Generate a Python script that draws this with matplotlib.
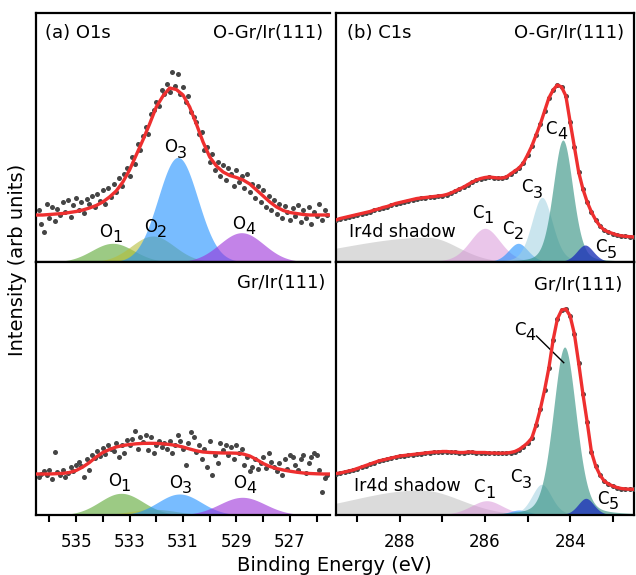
import numpy as np
import matplotlib
matplotlib.use("Agg")
import matplotlib.pyplot as plt

# ---------------- O1s ----------------
# measured points, 536.4 -> 525.6 eV in 0.1 eV steps (arb units)
o1s_ogr_data = [52, 38, 30, 58, 44, 55, 41, 53, 47, 60, 50, 62, 45, 57, 64, 52, 60, 49, 63, 58,
                66, 55, 68, 61, 72, 58, 74, 65, 78, 70, 84, 76, 88, 94, 86, 105, 98, 118, 112, 126,
                135, 128, 148, 152, 160, 156, 172, 168, 178, 170, 190, 176, 188, 168, 175, 160, 166, 150, 145, 140,
                128, 130, 112, 115, 100, 108, 92, 100, 86, 97, 82, 94, 88, 76, 92, 80, 86, 74, 88, 70,
                78, 64, 76, 60, 72, 55, 66, 52, 62, 48, 58, 44, 56, 50, 42, 54, 46, 57, 40, 52,
                44, 55, 38, 50, 46, 58, 42, 52, 47]
o1s_gr_data = [38, 41, 44, 40, 45, 36, 63, 43, 40, 45, 38, 42, 48, 44, 50, 53, 49, 38, 56, 45,
               60, 57, 64, 59, 67, 61, 70, 66, 64, 72, 58, 70, 62, 75, 70, 76, 84, 66, 78, 73,
               80, 65, 78, 62, 70, 74, 68, 72, 66, 74, 62, 70, 80, 74, 66, 50, 72, 83, 78, 63,
               70, 56, 66, 48, 74, 40, 60, 52, 72, 65, 70, 60, 68, 56, 70, 62, 66, 50, 58, 44,
               48, 56, 46, 52, 58, 47, 62, 53, 48, 44, 52, 40, 56, 46, 60, 58, 50, 45, 56, 60,
               42, 52, 58, 62, 60, 45, 23, 37, 40]

# fit envelopes, 536.5 -> 525.5 eV in 0.25 eV steps
o1s_ogr_fit = [47, 47, 47.5, 48, 48.5, 49.5, 50.5, 52, 54, 56.5, 60, 65, 71, 80, 92, 107, 122, 138,
               155, 166, 174, 172.5, 167, 155, 138, 120, 105, 96, 90, 86.5, 84.5, 82, 78, 72, 66, 60,
               55, 51.5, 49.5, 48.5, 47.5, 47, 47, 47, 47]
o1s_gr_fit = [41, 41, 41, 41.3, 41.6, 42.5, 44.5, 48, 52.5, 58, 62.5, 65.5, 68, 69.5, 70.5, 71.2,
              71.6, 71.7, 71.6, 71.2, 70.5, 69.5, 68, 66, 64.2, 63, 62.5, 62.2, 62, 62, 61.8, 61,
              59, 55.5, 51.5, 48.5, 46.5, 45, 43.8, 42.8, 42, 41.5, 41.2, 41, 41]

# fitted components O1..O4: centre (eV), height, fwhm (eV)
o_colors = ["#5aa832", "#b5bd3a", "#1e90ff", "#9b30d9"]
o1s_ogr_center = [533.63, 532.13, 531.19, 528.81]
o1s_ogr_height = [18.7, 26, 104.7, 29.3]
o1s_ogr_fwhm = [1.85, 1.9, 1.75, 1.95]
o1s_gr_center = [533.31, 532.1, 531.13, 528.78]
o1s_gr_height = [21.7, 5.7, 21, 17.7]
o1s_gr_fwhm = [1.9, 2.0, 1.9, 2.0]

# ---------------- C1s ----------------
# measured points, 289.5 -> 282.5 eV in 0.1 eV steps
c1s_ogr_data = [42, 43.5, 44.5, 45.5, 46.5, 47.5, 48.5, 49.5, 50.5, 52, 53, 54.5, 55.5, 57, 58.5,
                59.5, 60.5, 61.5, 62.5, 63.5, 64, 64.5, 65, 65.5, 66, 66.5, 67.5, 69, 71, 73,
                75, 77.5, 80, 82, 83.5, 84.5, 85, 84.5, 84, 84, 85, 88, 91, 94, 99,
                107, 116, 127, 138, 151, 164, 172, 177, 175, 166, 140, 115, 90, 73, 60,
                50, 42, 36, 32, 30, 28.5, 27, 26.2, 25.7, 25.3, 25]
c1s_gr_data = [41.5, 42, 43, 44, 45, 46.5, 48, 49.5, 51, 52.5, 54, 55, 56, 57, 58,
               59, 59.5, 60, 60.5, 61, 61.5, 62, 62.5, 63, 63, 63.5, 63.5, 63, 63, 62.5,
               62.5, 63, 63, 62.5, 62.5, 62.5, 62, 62, 61.8, 61.8, 62, 62.5, 63.5, 65.5, 68.5,
               72, 77, 90, 106, 125, 147, 175, 196, 205, 206, 199, 181, 152, 121, 93,
               63, 49, 40, 34, 31, 29, 27.5, 26.5, 26, 25.8, 25.7]

# Ir4d shadow: centre, height, left / right fwhm
shadow_ogr = [287.35, 24.7, 4.7, 1.65]
shadow_gr = [287.52, 25, 3.8, 2.2]

c_colors = ["#d68fd6", "#1e90ff", "#9fd0e0", "#2a8c7c", "#1f35b8"]
c_alpha = [0.5, 0.6, 0.55, 0.6, 0.8]
c1s_ogr_center = [286.0, 285.22, 284.66, 284.17, 283.65]
c1s_ogr_height = [33.7, 18.7, 64.7, 122, 17]
c1s_ogr_fwhm = [0.85, 0.55, 0.58, 0.55, 0.47]
c1s_gr_center = [285.96, 285.2, 284.67, 284.13, 283.63]
c1s_gr_height = [14.3, 5, 30.7, 168, 16.7]
c1s_gr_fwhm = [0.9, 0.55, 0.55, 0.64, 0.45]
lorentz_frac = 0.25


def gauss(x, c, h, fwhm):
    s = fwhm / 2.3548
    return h * np.exp(-(x - c) ** 2 / (2 * s ** 2))


def voigt(x, c, h, fwhm):
    lor = 1 / (1 + ((x - c) / (fwhm / 2)) ** 2)
    return (1 - lorentz_frac) * gauss(x, c, h, fwhm) + lorentz_frac * h * lor


def shadow(x, c, h, fl, fr):
    s = np.where(x > c, fl, fr) / 2.3548
    return h * np.exp(-(x - c) ** 2 / (2 * s ** 2))


def sub_label(ax, x, y, letter, digit):
    ax.text(x, y, letter, ha="right", va="center", fontsize=12)
    ax.annotate(digit, (x, y), xytext=(0, -4), textcoords="offset points",
                ha="left", va="center", fontsize=11.5)


W, H = 636, 575
fig = plt.figure(figsize=(W / 100, H / 100), dpi=100)


def px_axes(x0, y0, x1, y1):
    return fig.add_axes([x0 / W, 1 - y1 / H, (x1 - x0) / W, (y1 - y0) / H])


ax_a1 = px_axes(36, 13, 330, 262)
ax_a2 = px_axes(36, 262, 330, 515)
ax_b1 = px_axes(336, 13, 634, 262)
ax_b2 = px_axes(336, 262, 634, 515)

for ax in [ax_a1, ax_a2, ax_b1, ax_b2]:
    for sp in ax.spines.values():
        sp.set_linewidth(1.6)
    ax.set_yticks([])
    ax.tick_params(axis="x", direction="out", length=5, width=1.5, pad=8, labelsize=12)
for ax in [ax_a1, ax_a2]:
    ax.spines["right"].set_visible(False)
    ax.set_xlim(536.5, 525.5)
for ax in [ax_b1, ax_b2]:
    ax.set_xlim(289.5, 282.5)
ax_a1.set_ylim(0, 249)
ax_b1.set_ylim(0, 249)
ax_a2.set_ylim(0, 253)
ax_b2.set_ylim(0, 253)
for ax in [ax_a1, ax_b1]:
    ax.set_xticks([])

ax_a2.set_xticks(np.arange(526, 537))
ax_a2.set_xticklabels([str(v) if v % 2 else "" for v in range(526, 537)])
ax_b2.set_xticks(np.arange(283, 290))
ax_b2.set_xticklabels([str(v) if v % 2 == 0 else "" for v in range(283, 290)])

# O1s panels
xo = np.linspace(536.5, 525.5, 800)
for ax, cen, hgt, fw, data, fit in [
        (ax_a1, o1s_ogr_center, o1s_ogr_height, o1s_ogr_fwhm, o1s_ogr_data, o1s_ogr_fit),
        (ax_a2, o1s_gr_center, o1s_gr_height, o1s_gr_fwhm, o1s_gr_data, o1s_gr_fit)]:
    for i in range(4):
        ax.fill_between(xo, 0, gauss(xo, cen[i], hgt[i], fw[i]), color=o_colors[i],
                        alpha=0.6, lw=0)
    ax.scatter(np.linspace(536.4, 525.6, len(data)), data, s=13, color="#454545", lw=0, zorder=3)
    ax.plot(np.linspace(536.5, 525.5, len(fit)), fit, color="#ee2f2f", lw=2.4, zorder=4)

sub_label(ax_a1, 533.65, 30, "O", "1")
sub_label(ax_a1, 531.98, 35, "O", "2")
sub_label(ax_a1, 531.23, 114.5, "O", "3")
sub_label(ax_a1, 528.66, 38, "O", "4")
sub_label(ax_a2, 533.33, 34.5, "O", "1")
sub_label(ax_a2, 531.04, 32.5, "O", "3")
sub_label(ax_a2, 528.63, 32, "O", "4")

# C1s panels
xc = np.linspace(289.5, 282.5, 800)
for ax, sh, cen, hgt, fw, data in [
        (ax_b1, shadow_ogr, c1s_ogr_center, c1s_ogr_height, c1s_ogr_fwhm, c1s_ogr_data),
        (ax_b2, shadow_gr, c1s_gr_center, c1s_gr_height, c1s_gr_fwhm, c1s_gr_data)]:
    ax.fill_between(xc, 0, shadow(xc, *sh), color="#c8c8c8", alpha=0.65, lw=0)
    for i in range(5):
        ax.fill_between(xc, 0, voigt(xc, cen[i], hgt[i], fw[i]), color=c_colors[i],
                        alpha=c_alpha[i], lw=0)
    e = np.linspace(289.5, 282.5, len(data))
    ax.scatter(e, data, s=13, color="#454545", lw=0, zorder=3)
    ax.plot(e, data, color="#ee2f2f", lw=2.4, zorder=4)

sub_label(ax_b1, 286.04, 49.5, "C", "1")
sub_label(ax_b1, 285.32, 33.5, "C", "2")
sub_label(ax_b1, 284.87, 74.5, "C", "3")
sub_label(ax_b1, 284.31, 133, "C", "4")
sub_label(ax_b1, 283.14, 14.5, "C", "5")
ax_b1.text(287.95, 29.7, "Ir4d shadow", ha="center", va="center", fontsize=12.5)

sub_label(ax_b2, 286.0, 27.5, "C", "1")
sub_label(ax_b2, 285.14, 37.5, "C", "3")
sub_label(ax_b2, 285.05, 185.3, "C", "4")
sub_label(ax_b2, 283.1, 16, "C", "5")
ax_b2.plot([284.79, 284.15], [179, 152.3], color="k", lw=1)
ax_b2.text(287.83, 29.2, "Ir4d shadow", ha="center", va="center", fontsize=12.5)

# panel titles
ax_a1.text(0.031, 0.92, "(a) O1s", transform=ax_a1.transAxes, ha="left", va="center", fontsize=13)
ax_a1.text(0.976, 0.92, "O-Gr/Ir(111)", transform=ax_a1.transAxes, ha="right", va="center", fontsize=13)
ax_a2.text(0.983, 0.917, "Gr/Ir(111)", transform=ax_a2.transAxes, ha="right", va="center", fontsize=13)
ax_b1.text(0.036, 0.92, "(b) C1s", transform=ax_b1.transAxes, ha="left", va="center", fontsize=13)
ax_b1.text(0.967, 0.92, "O-Gr/Ir(111)", transform=ax_b1.transAxes, ha="right", va="center", fontsize=13)
ax_b2.text(0.961, 0.909, "Gr/Ir(111)", transform=ax_b2.transAxes, ha="right", va="center", fontsize=13)

fig.text(0.027, 1 - 260 / H, "Intensity (arb units)", rotation=90, ha="center", va="center", fontsize=14)
fig.text(0.526, 1 - 571 / H, "Binding Energy (eV)", ha="center", va="baseline", fontsize=14)

fig.savefig("out.png", dpi=100)
